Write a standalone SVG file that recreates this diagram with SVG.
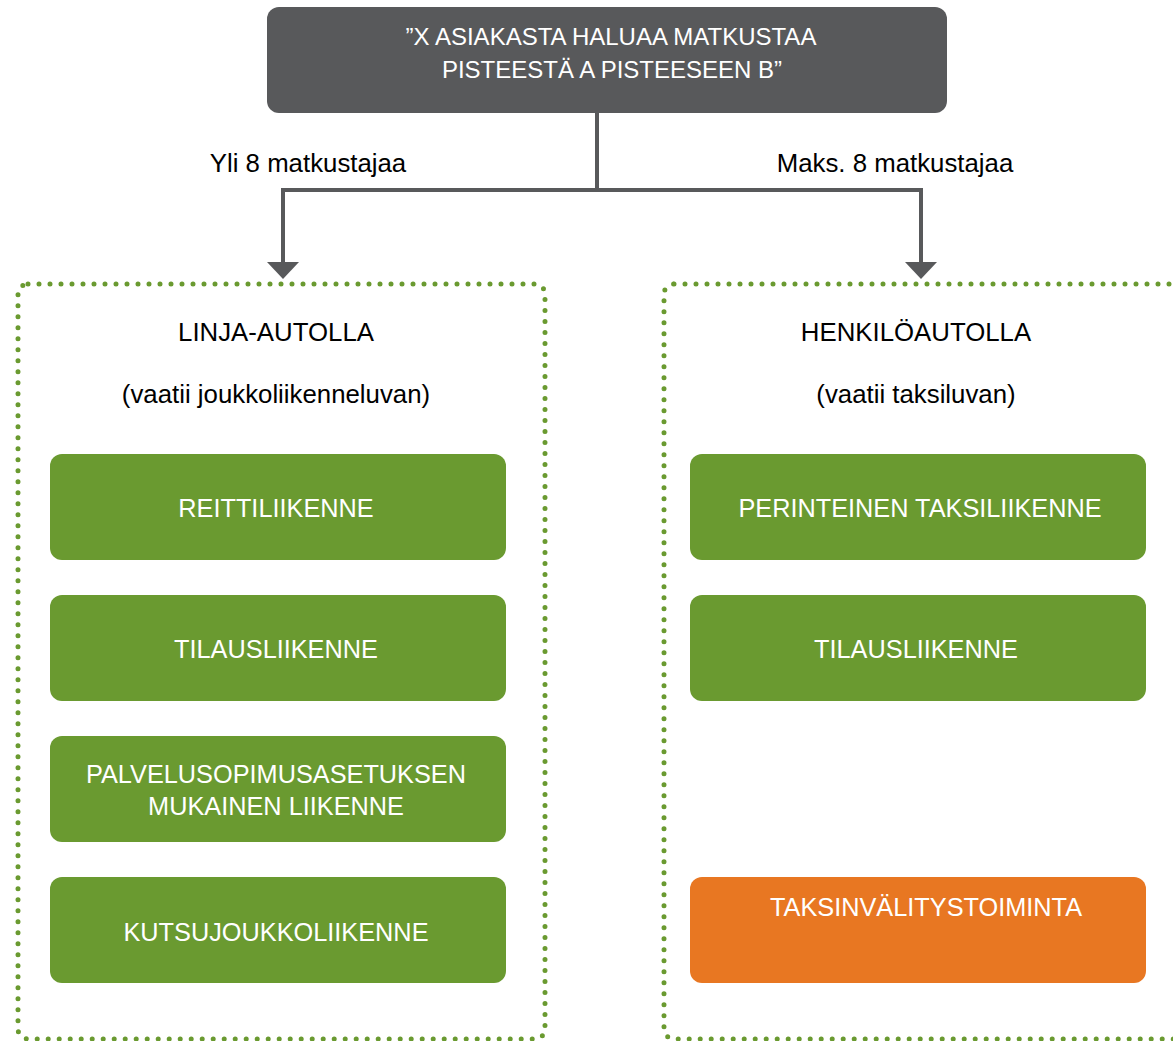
<svg xmlns="http://www.w3.org/2000/svg" width="1173" height="1041" viewBox="0 0 1173 1041">
<style>
text{font-family:"Liberation Sans",Arial,sans-serif;text-anchor:middle}
.w{fill:#ffffff;font-size:25.3px}
.t{fill:#ffffff;font-size:24px}
.b{fill:#000000;font-size:25.8px}
.g{fill:#6a9a30}
.o{fill:#e87722}
.dot{fill:none;stroke:#6a9a30;stroke-width:5;stroke-linecap:round;stroke-dasharray:0 11}
.con{fill:none;stroke:#58595b;stroke-width:4}
</style>
<rect width="1173" height="1041" fill="#ffffff"/>
<g id="frame-left"><rect class="dot" x="18" y="284" width="527" height="755" rx="10"/></g>
<g id="frame-right"><rect class="dot" x="664" y="284" width="530" height="755" rx="10"/></g>
<g id="connectors">
<path class="con" d="M597 113 V190 M283 190 H921"/>
<path class="con" d="M283 188 V262"/>
<path class="con" d="M921 188 V262"/>
<polygon points="267,262 299,262 283,279" fill="#58595b"/>
<polygon points="905,262 937,262 921,279" fill="#58595b"/>
</g>
<g id="top"><rect x="267" y="7" width="680" height="106" rx="12" fill="#58595b"/>
<text class="t" x="611" y="45">”X ASIAKASTA HALUAA MATKUSTAA</text>
<text class="t" x="612" y="78">PISTEESTÄ A PISTEESEEN B”</text></g>
<g id="label-left"><text class="b" x="308" y="172">Yli 8 matkustajaa</text></g>
<g id="label-right"><text class="b" x="895" y="172">Maks. 8 matkustajaa</text></g>
<g id="head-left"><text class="b" x="276" y="341">LINJA-AUTOLLA</text><text class="b" x="276" y="403">(vaatii joukkoliikenneluvan)</text></g>
<g id="head-right"><text class="b" x="916" y="341">HENKILÖAUTOLLA</text><text class="b" x="916" y="403">(vaatii taksiluvan)</text></g>
<g id="n1"><rect class="g" x="50" y="454" width="456" height="106" rx="12"/><text class="w" x="276" y="517">REITTILIIKENNE</text></g>
<g id="n2"><rect class="g" x="50" y="595" width="456" height="106" rx="12"/><text class="w" x="276" y="658">TILAUSLIIKENNE</text></g>
<g id="n3"><rect class="g" x="50" y="736" width="456" height="106" rx="12"/><text class="w" x="276" y="783">PALVELUSOPIMUSASETUKSEN</text><text class="w" x="276" y="815">MUKAINEN LIIKENNE</text></g>
<g id="n4"><rect class="g" x="50" y="877" width="456" height="106" rx="12"/><text class="w" x="276" y="941">KUTSUJOUKKOLIIKENNE</text></g>
<g id="n5"><rect class="g" x="690" y="454" width="456" height="106" rx="12"/><text class="w" x="920" y="517">PERINTEINEN TAKSILIIKENNE</text></g>
<g id="n6"><rect class="g" x="690" y="595" width="456" height="106" rx="12"/><text class="w" x="916" y="658">TILAUSLIIKENNE</text></g>
<g id="n7"><rect class="o" x="690" y="877" width="456" height="106" rx="12"/><text class="w" x="926" y="916">TAKSINVÄLITYSTOIMINTA</text></g>
</svg>
